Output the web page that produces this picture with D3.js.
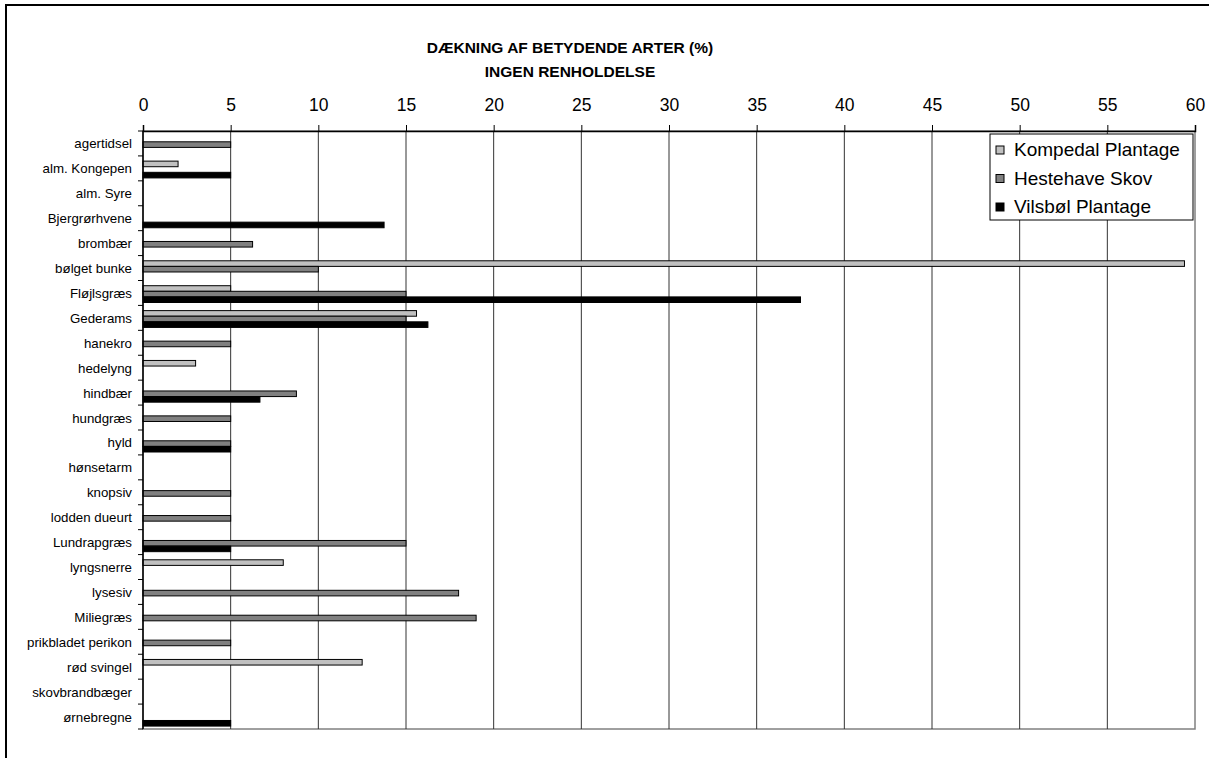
<!DOCTYPE html>
<html><head><meta charset="utf-8">
<script src="https://cdn.jsdelivr.net/npm/d3@7/dist/d3.min.js"></script>
<style>body{margin:0;background:#fff}svg{display:block}text{font-family:Arial,"Liberation Sans",sans-serif}</style>
</head><body>
<script>
const categories = ["agertidsel","alm. Kongepen","alm. Syre","Bjergrørhvene","brombær","bølget bunke","Fløjlsgræs","Gederams","hanekro","hedelyng","hindbær","hundgræs","hyld","hønsetarm","knopsiv","lodden dueurt","Lundrapgræs","lyngsnerre","lysesiv","Miliegræs","prikbladet perikon","rød svingel","skovbrandbæger","ørnebregne"];
const seriesNames = ["Kompedal Plantage","Hestehave Skov","Vilsbøl Plantage"];
const kompedal  = [0,2,0,0,0,59.4,5,15.6,0,3,0,0,0,0,0,0,0,8,0,0,0,12.5,0,0];
const hestehave = [5,0,0,0,6.25,10,15,15,5,0,8.75,5,5,0,5,5,15,0,18,19,5,0,0,0];
const vilsbol   = [0,5,0,13.75,0,0,37.5,16.25,0,0,6.67,0,5,0,0,0,5,0,0,0,0,0,0,5];
const xTicks = [0,5,10,15,20,25,30,35,40,45,50,55,60];
const titleLines = ["DÆKNING AF BETYDENDE ARTER (%)","INGEN RENHOLDELSE"];
const colors = ["#c0c0c0","#808080","#000000"];

const W=1209,H=758;
const svg=d3.select("body").append("svg").attr("width",W).attr("height",H);
svg.append("rect").attr("x",6).attr("y",5).attr("width",1230).attr("height",800)
  .attr("fill","#fff").attr("stroke","#000").attr("stroke-width",2);

const L=143,R=1195,T=131,B=729;
const x=d3.scaleLinear().domain([0,60]).range([L,R]);
const y=d3.scaleBand().domain(categories).range([T,B]);
const y1=d3.scaleBand().domain(seriesNames).range([5.2,22]);

// plot area border
svg.append("rect").attr("x",L).attr("y",T).attr("width",R-L).attr("height",B-T)
  .attr("fill","none").attr("stroke","#808080").attr("stroke-width",1.5);
// gridlines
svg.append("g").selectAll("line").data(xTicks.filter(d=>d>0&&d<60)).join("line")
  .attr("x1",d=>x(d)).attr("x2",d=>x(d)).attr("y1",T).attr("y2",B)
  .attr("stroke","#333").attr("stroke-width",1);

// bars
const data=[kompedal,hestehave,vilsbol];
data.forEach((vals,si)=>{
  svg.append("g").selectAll("rect").data(vals.map((v,i)=>({v,c:categories[i]})).filter(d=>d.v>0)).join("rect")
    .attr("x",x(0)).attr("y",d=>y(d.c)+y1(seriesNames[si]))
    .attr("width",d=>x(d.v)-x(0)).attr("height",y1.bandwidth())
    .attr("fill",colors[si]).attr("stroke","#000").attr("stroke-width",1);
});

// top axis
const xa=svg.append("g").attr("transform",`translate(0,${T})`)
  .call(d3.axisTop(x).tickValues(xTicks).tickSize(6).tickPadding(14).tickFormat(d3.format("d")));
xa.select(".domain").attr("stroke","#000").attr("stroke-width",1.5);
xa.selectAll(".tick line").attr("stroke","#000");
xa.selectAll("text").attr("font-size",17.5).attr("fill","#000").attr("font-family","Arial,'Liberation Sans',sans-serif");

// left axis
const boundaries=categories.map(c=>y(c)).concat([B]);
svg.append("line").attr("x1",L).attr("x2",L).attr("y1",T).attr("y2",B).attr("stroke","#000").attr("stroke-width",1.5);
svg.append("g").selectAll("line").data(boundaries).join("line")
  .attr("x1",L-5).attr("x2",L).attr("y1",d=>d).attr("y2",d=>d).attr("stroke","#000");
svg.append("g").selectAll("text").data(categories).join("text")
  .attr("x",132).attr("y",d=>y(d)+y.bandwidth()/2+5).attr("text-anchor","end")
  .attr("font-size",13.3).attr("fill","#000").text(d=>d);

// title
svg.append("g").selectAll("text").data(titleLines).join("text")
  .attr("x",570).attr("y",(d,i)=>53+i*24).attr("text-anchor","middle")
  .attr("font-size",15.5).attr("font-weight","bold").text(d=>d);

// legend
const lg=svg.append("g").attr("transform","translate(990,134)");
lg.append("rect").attr("width",203).attr("height",86).attr("fill","#fff").attr("stroke","#000").attr("stroke-width",1);
seriesNames.forEach((s,i)=>{
  lg.append("rect").attr("x",6).attr("y",12+i*28.5).attr("width",8).attr("height",8)
    .attr("fill",colors[i]).attr("stroke","#000").attr("stroke-width",1);
  lg.append("text").attr("x",24).attr("y",22+i*28.5).attr("font-size",19).text(s);
});
</script>
</body></html>
